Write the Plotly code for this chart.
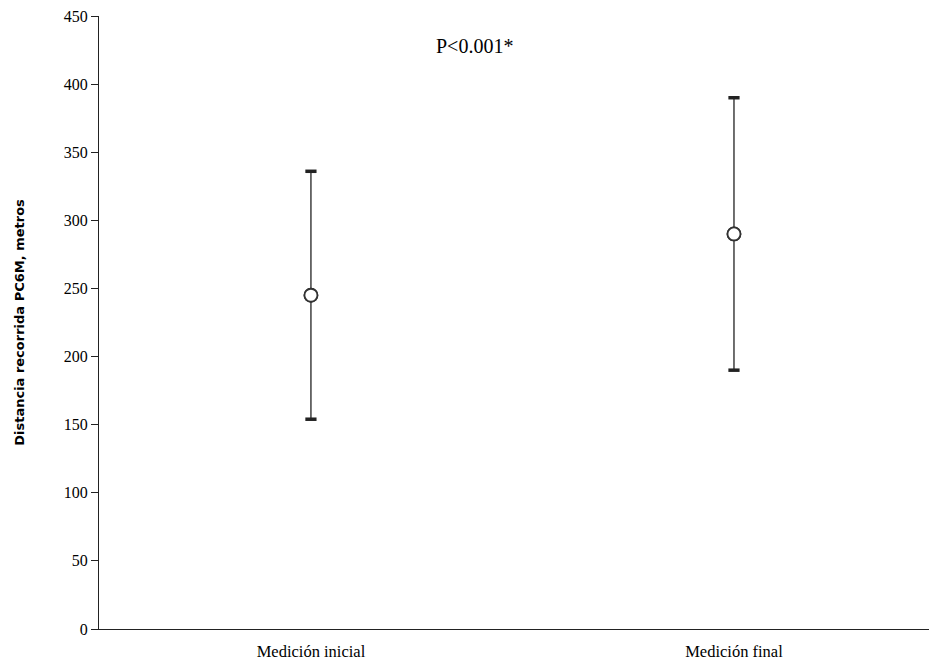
import plotly.graph_objects as go

categories = ["Medición inicial", "Medición final"]
means = [245, 290]
sds = [91, 100]
x_pos = [0, 1]

upper = [m + s for m, s in zip(means, sds)]
lower = [m - s for m, s in zip(means, sds)]

fig = go.Figure()
fig.add_trace(go.Scatter(
    x=x_pos, y=means, mode="markers",
    error_y=dict(type="data", array=sds, visible=True, color="#222222", thickness=1.3, width=0),
    marker=dict(symbol="circle", size=13, color="white", line=dict(color="#333333", width=1.8)),
    showlegend=False, hoverinfo="skip"))
fig.add_trace(go.Scatter(
    x=x_pos + x_pos, y=upper + lower, mode="markers",
    marker=dict(symbol="line-ew", size=8, line=dict(color="#222222", width=3.5)),
    showlegend=False, hoverinfo="skip"))
fig.add_trace(go.Scatter(
    x=x_pos, y=means, mode="markers",
    marker=dict(symbol="circle", size=13, color="white", line=dict(color="#333333", width=1.8)),
    showlegend=False, hoverinfo="skip"))

fig.add_annotation(x=0.387, y=428, xref="x", yref="y", text="P<0.001*", showarrow=False,
                   font=dict(family="Liberation Serif", size=20, color="black"))

fig.update_layout(
    width=931, height=662,
    margin=dict(l=99, r=2, t=16, b=33),
    paper_bgcolor="white", plot_bgcolor="white",
    xaxis=dict(range=[-0.501, 1.461], tickmode="array", tickvals=x_pos, ticktext=categories,
               showline=True, linecolor="#222222", linewidth=1.3, showgrid=False, zeroline=False,
               ticks="", ticklabelstandoff=7,
               tickfont=dict(family="Liberation Serif", size=16.5, color="black")),
    yaxis=dict(range=[0, 450], tickmode="array", tickvals=list(range(0, 451, 50)),
               showline=True, linecolor="#222222", linewidth=1.3, showgrid=False, zeroline=False,
               ticks="outside", ticklen=7, tickcolor="#222222", tickwidth=1.2,
               tickfont=dict(family="Liberation Serif", size=16, color="black"),
               title=dict(text="<b>Distancia recorrida PC6M, metros</b>", standoff=36,
                          font=dict(family="DejaVu Sans", size=13, color="black"))),
)

fig.write_html("out.html")
